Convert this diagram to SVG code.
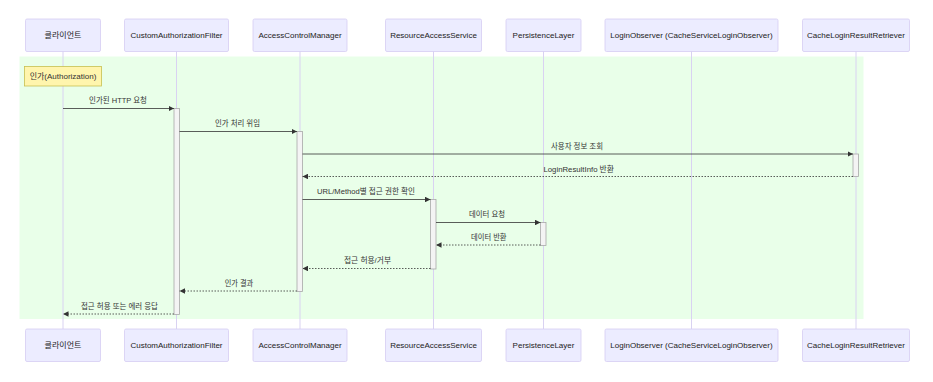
<svg xmlns="http://www.w3.org/2000/svg" width="933" height="382" viewBox="0 0 933 382">
<style>
text{font-family:"Liberation Sans","Noto Sans CJK KR",sans-serif;fill:#333;}
.actor rect{fill:#ececff;stroke:#d6cdf3;stroke-width:0.8;}
.actor text{font-size:8px;text-anchor:middle;dominant-baseline:central;fill:#222;}
.life{stroke:#d9d2f2;stroke-width:1;}
.act{fill:#f4f4f4;stroke:#a8a8a8;stroke-width:0.8;}
.msg{stroke:#333;stroke-width:0.8;fill:none;}
.dash{stroke-dasharray:1.5,1.5;}
.lbl{font-size:8px;text-anchor:middle;}
</style>
<defs>
<marker id="arr" viewBox="0 0 10 10" refX="10" refY="5" markerUnits="userSpaceOnUse" markerWidth="5.5" markerHeight="5.5" orient="auto">
<path d="M0,0 L10,5 L0,10 z" fill="#333"/>
</marker>
</defs>
<rect x="19.5" y="56.5" width="844" height="262.5" fill="#e9ffe9"/>
<g id="lifelines">
<line class="life" x1="63" y1="51" x2="63" y2="329"/>
<line class="life" x1="176.5" y1="51" x2="176.5" y2="329"/>
<line class="life" x1="300" y1="51" x2="300" y2="329"/>
<line class="life" x1="433.5" y1="51" x2="433.5" y2="329"/>
<line class="life" x1="543.5" y1="51" x2="543.5" y2="329"/>
<line class="life" x1="691.5" y1="51" x2="691.5" y2="329"/>
<line class="life" x1="856" y1="51" x2="856" y2="329"/>
</g>
<g id="actor-client-top" class="actor"><rect x="25.5" y="19" width="75" height="32.5" rx="1.5"/><text x="63" y="35.2">클라이언트</text></g>
<g id="actor-filter-top" class="actor"><rect x="124.5" y="19" width="104" height="32.5" rx="1.5"/><text x="176.5" y="35.2">CustomAuthorizationFilter</text></g>
<g id="actor-acm-top" class="actor"><rect x="253" y="19" width="94" height="32.5" rx="1.5"/><text x="300" y="35.2">AccessControlManager</text></g>
<g id="actor-ras-top" class="actor"><rect x="385.5" y="19" width="96" height="32.5" rx="1.5"/><text x="433.5" y="35.2">ResourceAccessService</text></g>
<g id="actor-pl-top" class="actor"><rect x="506" y="19" width="75" height="32.5" rx="1.5"/><text x="543.5" y="35.2">PersistenceLayer</text></g>
<g id="actor-lo-top" class="actor"><rect x="605" y="19" width="173" height="32.5" rx="1.5"/><text x="691.5" y="35.2">LoginObserver (CacheServiceLoginObserver)</text></g>
<g id="actor-clrr-top" class="actor"><rect x="802.5" y="19" width="107" height="32.5" rx="1.5"/><text x="856" y="35.2">CacheLoginResultRetriever</text></g>
<g id="note">
<rect x="24.5" y="66.5" width="77" height="19.5" fill="#fff5ad" stroke="#c8c050" stroke-width="0.8"/>
<text x="63" y="76.5" font-size="8" text-anchor="middle" dominant-baseline="central" fill="#222">인가(Authorization)</text>
</g>
<g id="activations">
<rect class="act" x="174" y="108.5" width="5.5" height="206"/>
<rect class="act" x="297" y="131.5" width="5.5" height="160"/>
<rect class="act" x="853" y="154" width="5.5" height="22.5"/>
<rect class="act" x="430.5" y="199.5" width="5.5" height="69.5"/>
<rect class="act" x="540.5" y="222.5" width="5.5" height="23"/>
</g>
<g id="connectors">
<line class="msg" x1="63" y1="108.5" x2="174" y2="108.5" marker-end="url(#arr)"/>
<line class="msg" x1="179.5" y1="131.5" x2="297" y2="131.5" marker-end="url(#arr)"/>
<line class="msg" x1="302.5" y1="154" x2="853" y2="154" marker-end="url(#arr)"/>
<line class="msg dash" x1="853" y1="176.5" x2="302.5" y2="176.5" marker-end="url(#arr)"/>
<line class="msg" x1="302.5" y1="199.5" x2="430.5" y2="199.5" marker-end="url(#arr)"/>
<line class="msg" x1="436" y1="222.5" x2="540.5" y2="222.5" marker-end="url(#arr)"/>
<line class="msg dash" x1="540.5" y1="245" x2="436" y2="245" marker-end="url(#arr)"/>
<line class="msg dash" x1="430.5" y1="268.5" x2="302.5" y2="268.5" marker-end="url(#arr)"/>
<line class="msg dash" x1="297" y1="291" x2="179.5" y2="291" marker-end="url(#arr)"/>
<line class="msg dash" x1="174" y1="314" x2="63" y2="314" marker-end="url(#arr)"/>
<text class="lbl" x="118" y="103.3" textLength="58" lengthAdjust="spacingAndGlyphs">인가된 HTTP 요청</text>
<text class="lbl" x="237.5" y="126.3" textLength="45" lengthAdjust="spacingAndGlyphs">인가 처리 위임</text>
<text class="lbl" x="577" y="149" textLength="52" lengthAdjust="spacingAndGlyphs">사용자 정보 조회</text>
<text class="lbl" x="578.7" y="171.5" textLength="70.5" lengthAdjust="spacingAndGlyphs">LoginResultInfo 반환</text>
<text class="lbl" x="366" y="194.3" textLength="98" lengthAdjust="spacingAndGlyphs">URL/Method별 접근 권한 확인</text>
<text class="lbl" x="487" y="217.3" textLength="36" lengthAdjust="spacingAndGlyphs">데이터 요청</text>
<text class="lbl" x="488.8" y="240" textLength="35.5" lengthAdjust="spacingAndGlyphs">데이터 반환</text>
<text class="lbl" x="367.5" y="263.3" textLength="47" lengthAdjust="spacingAndGlyphs">접근 허용/거부</text>
<text class="lbl" x="239" y="286" textLength="28.5" lengthAdjust="spacingAndGlyphs">인가 결과</text>
<text class="lbl" x="119.5" y="309" textLength="77" lengthAdjust="spacingAndGlyphs">접근 허용 또는 에러 응답</text>
</g>
<g id="actor-client-bottom" class="actor"><rect x="25.5" y="329" width="75" height="32.5" rx="1.5"/><text x="63" y="345.2">클라이언트</text></g>
<g id="actor-filter-bottom" class="actor"><rect x="124.5" y="329" width="104" height="32.5" rx="1.5"/><text x="176.5" y="345.2">CustomAuthorizationFilter</text></g>
<g id="actor-acm-bottom" class="actor"><rect x="253" y="329" width="94" height="32.5" rx="1.5"/><text x="300" y="345.2">AccessControlManager</text></g>
<g id="actor-ras-bottom" class="actor"><rect x="385.5" y="329" width="96" height="32.5" rx="1.5"/><text x="433.5" y="345.2">ResourceAccessService</text></g>
<g id="actor-pl-bottom" class="actor"><rect x="506" y="329" width="75" height="32.5" rx="1.5"/><text x="543.5" y="345.2">PersistenceLayer</text></g>
<g id="actor-lo-bottom" class="actor"><rect x="605" y="329" width="173" height="32.5" rx="1.5"/><text x="691.5" y="345.2">LoginObserver (CacheServiceLoginObserver)</text></g>
<g id="actor-clrr-bottom" class="actor"><rect x="802.5" y="329" width="107" height="32.5" rx="1.5"/><text x="856" y="345.2">CacheLoginResultRetriever</text></g>
</svg>
